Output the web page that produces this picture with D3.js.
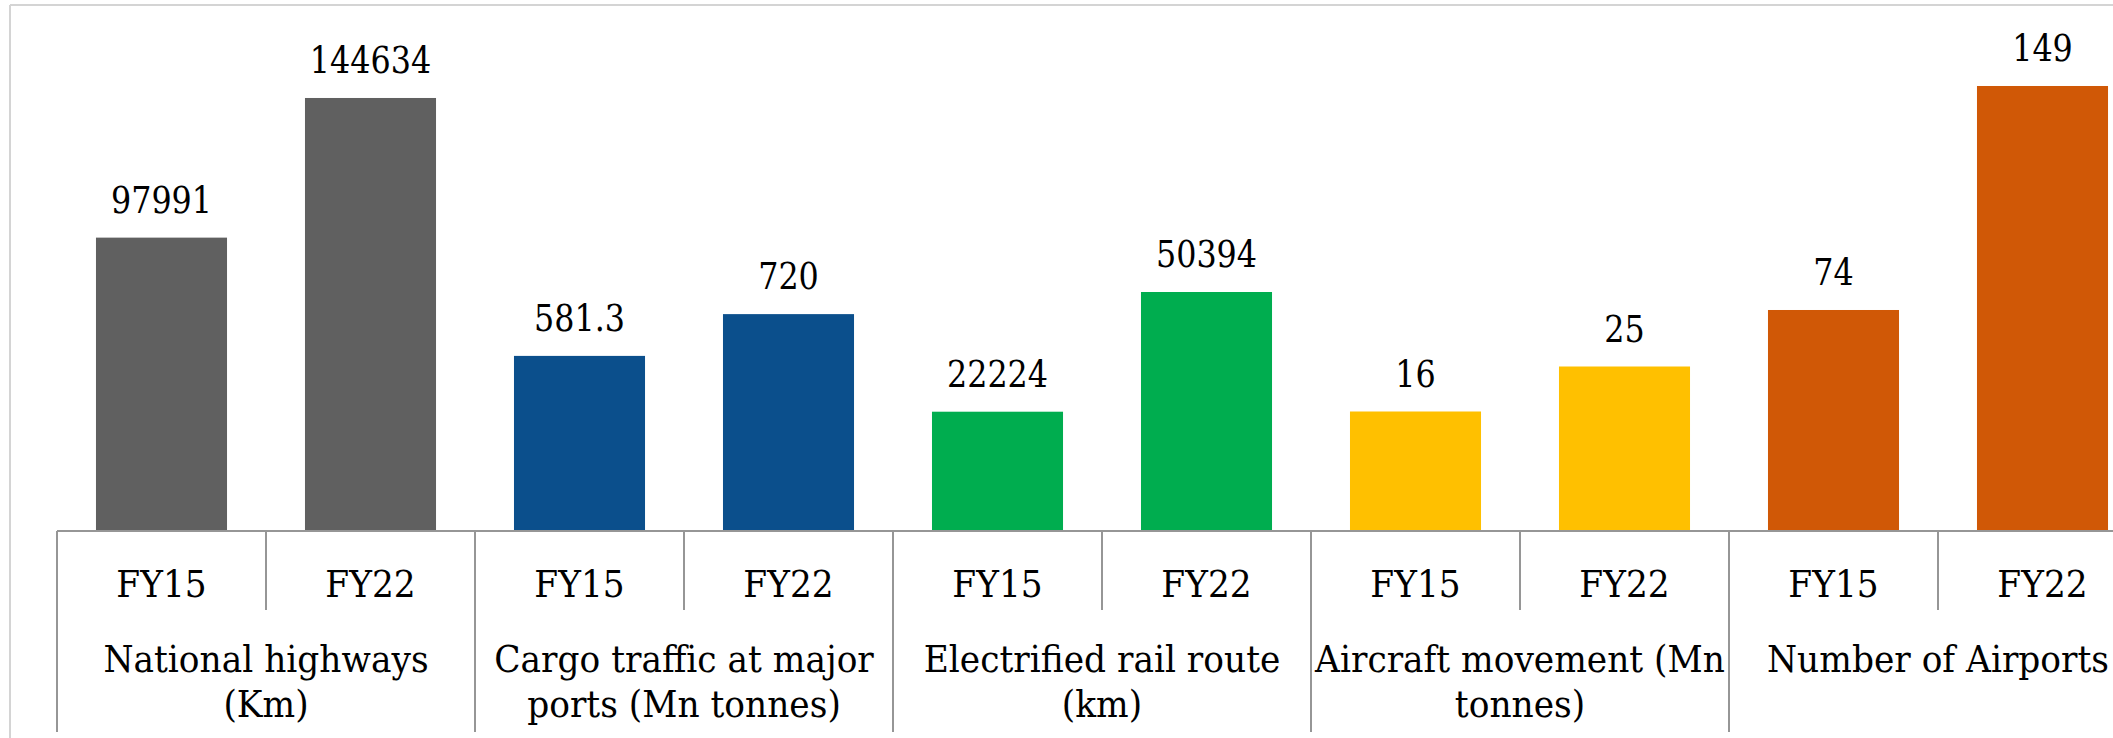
<!DOCTYPE html>
<html>
<head>
<meta charset="utf-8">
<script src="https://cdn.jsdelivr.net/npm/d3@7"></script>
<style>
  html, body { margin: 0; padding: 0; background: #ffffff; }
  svg { display: block; }
</style>
</head>
<body>
<svg id="chart" width="2113" height="738"></svg>
<script>
// ---- data ----
const groups = ["National highways (Km)", "Cargo traffic at major ports (Mn tonnes)", "Electrified rail route (km)", "Aircraft movement (Mn tonnes)", "Number of Airports"];
const groupLabelLines = [
  ["National highways", "(Km)"],
  ["Cargo traffic at major", "ports (Mn tonnes)"],
  ["Electrified rail route", "(km)"],
  ["Aircraft movement (Mn", "tonnes)"],
  ["Number of Airports"]
];
const years = ["FY15", "FY22"];
const valuesFY15 = [97991, 581.3, 22224, 16, 74];
const valuesFY22 = [144634, 720, 50394, 25, 149];
const valueLabelsFY15 = ["97991", "581.3", "22224", "16", "74"];
const valueLabelsFY22 = ["144634", "720", "50394", "25", "149"];
const groupColors = ["#606060", "#0b4f8c", "#00ad4f", "#ffc000", "#d05806"];
// each category is plotted on its own (hidden) value axis
const axisMin = [0, 0, -5850, -7.9, 0];
const axisMax = [164000, 1630, 109700, 90.3, 164.4];

// ---- layout ----
const FONT = "'DejaVu Serif', serif";
const svg = d3.select("#chart").attr("font-family", FONT).style("font-family", FONT);
const W = 2113, H = 738;
const plotLeft = 57, groupStep = 418;
const baseY = 531, topY = 40;

svg.append("line").attr("x1", 10).attr("x2", W).attr("y1", 5).attr("y2", 5)
  .attr("stroke", "#d4d4d4").attr("stroke-width", 2);
svg.append("line").attr("x1", 10).attr("x2", 10).attr("y1", 5).attr("y2", H)
  .attr("stroke", "#d4d4d4").attr("stroke-width", 2);

const x0 = d3.scaleBand().domain(groups).range([plotLeft, plotLeft + groupStep * groups.length]).padding(0);
const x1 = d3.scaleBand().domain(years).range([0, x0.bandwidth()]).paddingInner(0.373).paddingOuter(0.1865);
const slot = d3.scaleBand().domain(years).range([0, x0.bandwidth()]).padding(0);

const yScales = groups.map((g, i) => d3.scaleLinear().domain([axisMin[i], axisMax[i]]).range([baseY, topY]));

const rows = [];
groups.forEach((g, i) => {
  rows.push({ g, i, year: "FY15", v: valuesFY15[i], label: valueLabelsFY15[i] });
  rows.push({ g, i, year: "FY22", v: valuesFY22[i], label: valueLabelsFY22[i] });
});

// helper: serif text compressed horizontally to Times-like proportions
function addText(sel, x, y, str, fs, sx) {
  const g = sel.append("g").attr("transform", `translate(${x},${y}) scale(${sx},1)`);
  g.append("text").attr("text-anchor", "middle").attr("font-size", fs)
    .attr("font-family", FONT).attr("fill", "#000").text(str);
  return g;
}

svg.append("g").selectAll("rect").data(rows).join("rect")
  .attr("x", d => x0(d.g) + x1(d.year))
  .attr("width", x1.bandwidth())
  .attr("y", d => yScales[d.i](d.v))
  .attr("height", d => baseY - yScales[d.i](d.v))
  .attr("fill", d => groupColors[d.i]);

const labG = svg.append("g");
rows.forEach(d => addText(labG, x0(d.g) + x1(d.year) + x1.bandwidth() / 2, yScales[d.i](d.v) - 25, d.label, 37, 0.86));

const axisColor = "#969696";
const axisG = svg.append("g");
axisG.append("line")
  .attr("x1", x0.range()[0]).attr("x2", x0.range()[1])
  .attr("y1", baseY).attr("y2", baseY)
  .attr("stroke", axisColor).attr("stroke-width", 2);

const boundaries = groups.map(g => x0(g)).concat([x0.range()[1]]);
axisG.selectAll("line.outer").data(boundaries).join("line").attr("class", "outer")
  .attr("x1", d => d).attr("x2", d => d)
  .attr("y1", baseY).attr("y2", 732)
  .attr("stroke", axisColor).attr("stroke-width", 2);

axisG.selectAll("line.inner").data(groups).join("line").attr("class", "inner")
  .attr("x1", g => x0(g) + slot("FY22")).attr("x2", g => x0(g) + slot("FY22"))
  .attr("y1", baseY).attr("y2", 610)
  .attr("stroke", axisColor).attr("stroke-width", 2);

rows.forEach(d => addText(axisG, x0(d.g) + slot(d.year) + slot.bandwidth() / 2, 597, d.year, 37, 0.93));

groups.forEach((g, i) => {
  groupLabelLines[i].forEach((line, k) => {
    addText(axisG, x0(g) + x0.bandwidth() / 2, 672 + 45 * k, line, 37, 0.93);
  });
});
</script>
</body>
</html>
